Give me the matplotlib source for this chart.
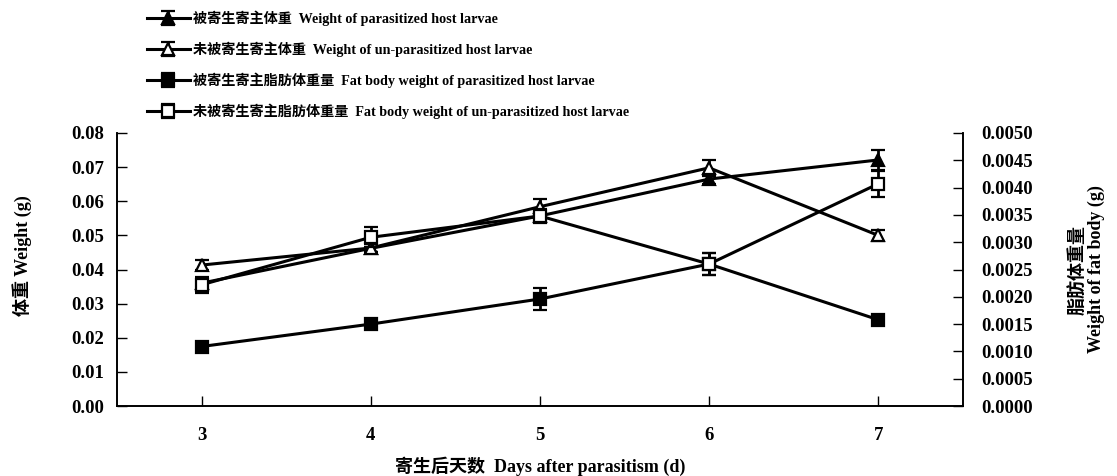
import numpy as np
import matplotlib.pyplot as plt

plt.rcParams['font.family'] = ['Liberation Serif', 'Noto Sans CJK SC']
plt.rcParams['font.weight'] = 'bold'
plt.rcParams['axes.labelweight'] = 'bold'

days = np.array([3, 4, 5, 6, 7])

# host larvae weight (g), left axis
w_para = np.array([0.0360, 0.0462, 0.0557, 0.0665, 0.0721])
w_para_err = np.array([0.0010, 0.0012, 0.0015, 0.0015, 0.0028])
w_unpara = np.array([0.0413, 0.0463, 0.0584, 0.0698, 0.0500])
w_unpara_err = np.array([0.0015, 0.0012, 0.0024, 0.0024, 0.0015])

# fat body weight (g), right axis
fat_para = np.array([0.00109, 0.00150, 0.00196, 0.00260, 0.00158])
fat_para_err = np.array([0.00006, 0.00008, 0.00020, 0.00020, 0.00008])
fat_unpara = np.array([0.00222, 0.00309, 0.00348, 0.00260, 0.00407])
fat_unpara_err = np.array([0.00015, 0.00018, 0.00012, 0.00020, 0.00024])

labels = ['被寄生寄主体重  Weight of parasitized host larvae',
          '未被寄生寄主体重  Weight of un-parasitized host larvae',
          '被寄生寄主脂肪体重量  Fat body weight of parasitized host larvae',
          '未被寄生寄主脂肪体重量  Fat body weight of un-parasitized host larvae']

fig = plt.figure(figsize=(11.17, 4.76), dpi=100)
ax = fig.add_axes([0.1047, 0.147, 0.7573, 0.5736])
ax2 = ax.twinx()

style = dict(color='black', lw=2.2, elinewidth=2, capsize=5, capthick=2, ms=8, mew=1.6)

h1 = ax.errorbar(days, w_para, yerr=w_para_err, marker='^', mfc='black', mec='black', **style)
h2 = ax.errorbar(days, w_unpara, yerr=w_unpara_err, marker='^', mfc='white', mec='black', **style)
h3 = ax2.errorbar(days, fat_para, yerr=fat_para_err, marker='s', mfc='black', mec='black', **style)
h4 = ax2.errorbar(days, fat_unpara, yerr=fat_unpara_err, marker='s', mfc='white', mec='black', **style)

ax.set_xlim(2.5, 7.5)
ax.set_ylim(0, 0.08)
ax2.set_ylim(0, 0.005)
ax.set_xticks(days)
ax.set_yticks(np.arange(0, 0.081, 0.01))
ax.set_yticklabels(['%.2f' % v for v in np.arange(0, 0.081, 0.01)])
ax2.set_yticks(np.arange(0, 0.00501, 0.0005))
ax2.set_yticklabels(['%.4f' % v for v in np.arange(0, 0.00501, 0.0005)])

for a in (ax, ax2):
    a.spines['top'].set_visible(False)
    for s in a.spines.values():
        s.set_linewidth(1.2)
ax.tick_params(axis='x', direction='in', length=7, width=1, pad=15, labelsize=13.5)
ax.tick_params(axis='y', direction='in', length=7, width=1, pad=9, labelsize=13.5)
ax2.tick_params(axis='y', direction='in', length=7, width=1, pad=13, labelsize=13.5)

ax.set_xlabel('寄生后天数  Days after parasitism (d)', fontsize=13, labelpad=9)
ax.set_ylabel('体重 Weight (g)', fontsize=13)
ax.yaxis.set_label_coords(-0.10, 0.55)
ax2.set_ylabel('脂肪体重量\nWeight of fat body (g)', fontsize=13, rotation=90, linespacing=1.1)
ax2.yaxis.set_label_coords(1.125, 0.5)

fig.legend([h1, h2, h3, h4], labels, loc='upper left', bbox_to_anchor=(0.124, 0.996),
           frameon=False, fontsize=10.2, handlelength=3, handletextpad=0.25,
           labelspacing=1.1, borderaxespad=0.2)

fig.savefig('out.png', dpi=100)
